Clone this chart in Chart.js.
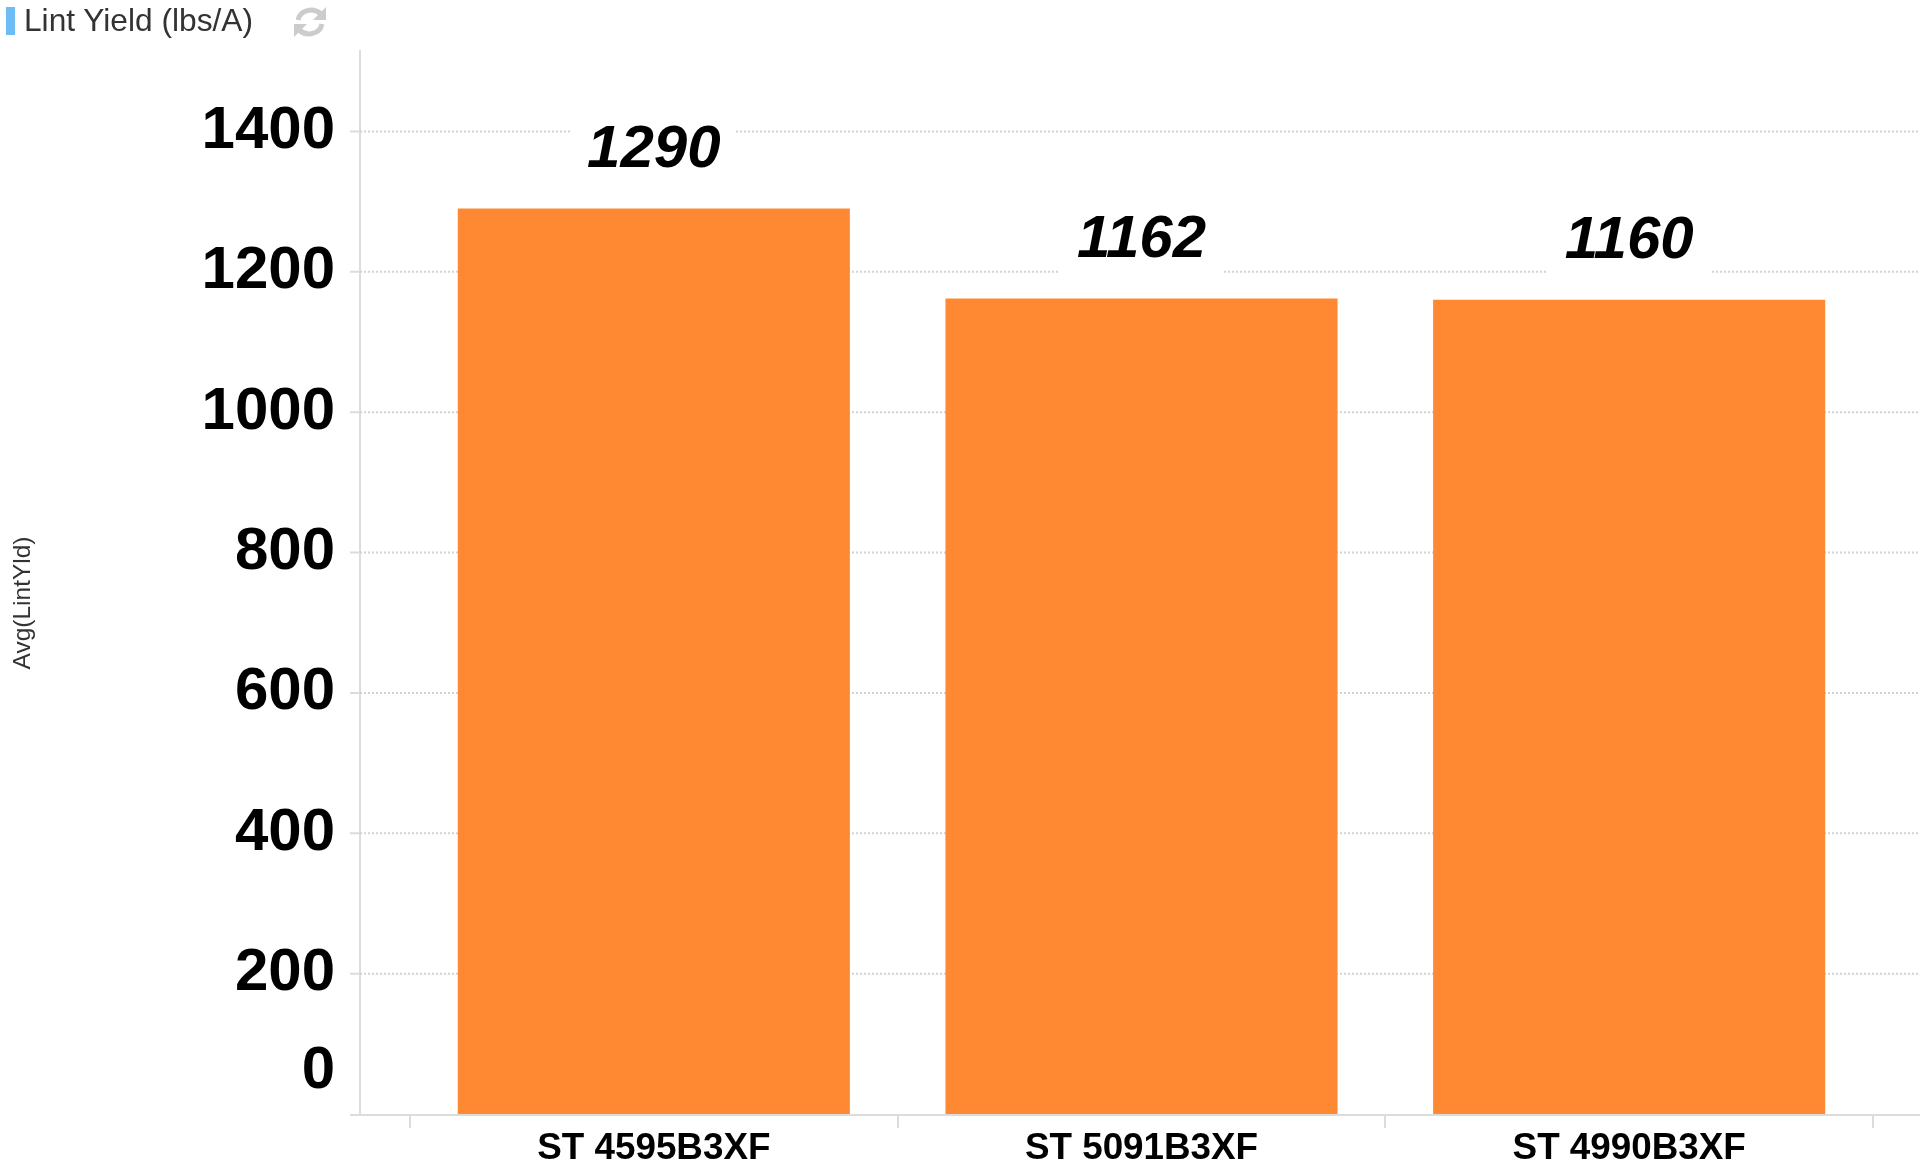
<!DOCTYPE html>
<html>
<head>
<meta charset="utf-8">
<title>Lint Yield (lbs/A)</title>
<script src="https://cdn.jsdelivr.net/npm/chart.js@4/dist/chart.umd.min.js"></script>
<style>
    html, body { margin: 0; padding: 0; background: #fff; overflow: hidden; }
    #wrap { position: relative; width: 1926px; height: 1162px; }
    #grafico { position: absolute; left: 0; top: 0; }
    #marker { position: absolute; left: 6px; top: 7px; width: 9px; height: 28px; background: #6ebcf5; }
    #titulo { position: absolute; left: 24px; top: 2px; font: 31.7px/36px "Liberation Sans", sans-serif; color: #333; white-space: nowrap; }
    #refresh { position: absolute; left: 292px; top: 5px; }
</style>
</head>
<body>
<div id="wrap">
    <canvas id="grafico" width="1926" height="1162"></canvas>
    <div id="marker"></div>
    <div id="titulo">Lint Yield (lbs/A)</div>
    <svg id="refresh" width="36" height="34" viewBox="0 0 36 34" fill="none">
        <path d="M6 15 C8 5 21 2 29 9" stroke="#ccc" stroke-width="5"/>
        <path d="M34 2 V15 H21 Z" fill="#ccc"/>
        <path d="M30 19 C28 29 15 32 7 25" stroke="#ccc" stroke-width="5"/>
        <path d="M2 32 V19 H15 Z" fill="#ccc"/>
    </svg>
</div>
<script>
const categories = ['ST 4595B3XF', 'ST 5091B3XF', 'ST 4990B3XF'];
const lintYield = [1290, 1162, 1160];
const yTicks = [0, 200, 400, 600, 800, 1000, 1200, 1400];
const yTitle = 'Avg(LintYld)';

const fontFamily = '"Liberation Sans", Arial, sans-serif';

// axis lines and grid run past the category bands, so they are drawn here
const extras = {
    id: 'extras',
    beforeDatasetsDraw(chart) {
        const { ctx, chartArea, scales } = chart;
        const left = chartArea.left - 50;
        const right = chartArea.right + 47;
        ctx.save();
        ctx.strokeStyle = '#dcdcdc';
        ctx.lineWidth = 2;
        ctx.beginPath();
        ctx.moveTo(left, chartArea.top);
        ctx.lineTo(left, chartArea.bottom);
        ctx.moveTo(left - 10, chartArea.bottom + 1);
        ctx.lineTo(right, chartArea.bottom + 1);
        yTicks.forEach(function (v) {
            if (v === 0) return;
            const y = scales.y.getPixelForValue(v);
            ctx.moveTo(left - 10, y);
            ctx.lineTo(left, y);
        });
        ctx.stroke();

        ctx.strokeStyle = '#d2d2d2';
        ctx.setLineDash([2, 2]);
        ctx.beginPath();
        yTicks.forEach(function (v) {
            if (v === 0) return;
            const y = scales.y.getPixelForValue(v);
            ctx.moveTo(left, y);
            ctx.lineTo(right, y);
        });
        ctx.stroke();
        ctx.restore();
    },
    afterDatasetsDraw(chart) {
        const { ctx } = chart;
        const bars = chart.getDatasetMeta(0).data;
        ctx.save();
        ctx.font = 'italic bold 60px ' + fontFamily;
        ctx.textAlign = 'center';
        ctx.textBaseline = 'middle';
        bars.forEach(function (bar, i) {
            const y = bar.y - 58;
            ctx.fillStyle = '#fff';
            ctx.fillRect(bar.x - 82, y - 36, 164, 72);
            ctx.fillStyle = '#000';
            ctx.fillText(String(lintYield[i]), bar.x, y);
        });

        ctx.translate(23, 603);
        ctx.rotate(-Math.PI / 2);
        ctx.font = '24.5px ' + fontFamily;
        ctx.fillStyle = '#333';
        ctx.fillText(yTitle, 0, 0);
        ctx.restore();
    }
};

// the plot box is fixed by hand, tick label sizes must not push it around
function noPadding(scale) {
    scale.paddingTop = 0;
    scale.paddingBottom = 0;
    scale.paddingLeft = 0;
    scale.paddingRight = 0;
}

const ctx = document.getElementById('grafico').getContext('2d');
new Chart(ctx, {
    type: 'bar',
    data: {
        labels: categories,
        datasets: [{
            label: 'Avg(LintYld)',
            data: lintYield,
            backgroundColor: '#ff8833',
            barPercentage: 0.804,
            categoryPercentage: 1
        }]
    },
    options: {
        responsive: false,
        animation: false,
        layout: { padding: { top: 50, right: 53 } },
        plugins: {
            legend: { display: false },
            title: { display: false },
            tooltip: { enabled: false }
        },
        scales: {
            x: {
                border: { display: false },
                grid: {
                    drawOnChartArea: false,
                    color: '#dcdcdc',
                    lineWidth: 2,
                    tickLength: 14
                },
                ticks: {
                    color: '#000',
                    padding: 2,
                    maxRotation: 0,
                    font: { family: fontFamily, size: 36.8, weight: 'bold', lineHeight: 1 }
                },
                afterFit: function (scale) {
                    scale.height = 48;
                    noPadding(scale);
                }
            },
            y: {
                min: 0,
                max: 1516,
                border: { display: false },
                grid: { display: false },
                ticks: {
                    stepSize: 200,
                    includeBounds: false,
                    autoSkip: false,
                    color: '#000',
                    padding: 67,
                    // only the 0 label sits well above its tick
                    callback: function (v) { return v === 0 ? ['0', ''] : String(v); },
                    font: function (c) {
                        return {
                            family: fontFamily,
                            size: 60,
                            weight: 'bold',
                            lineHeight: c.tick && c.tick.value === 0 ? '85px' : '60px'
                        };
                    }
                },
                afterFit: function (scale) {
                    scale.width = 410;
                    noPadding(scale);
                }
            }
        }
    },
    plugins: [extras]
});
</script>
</body>
</html>
